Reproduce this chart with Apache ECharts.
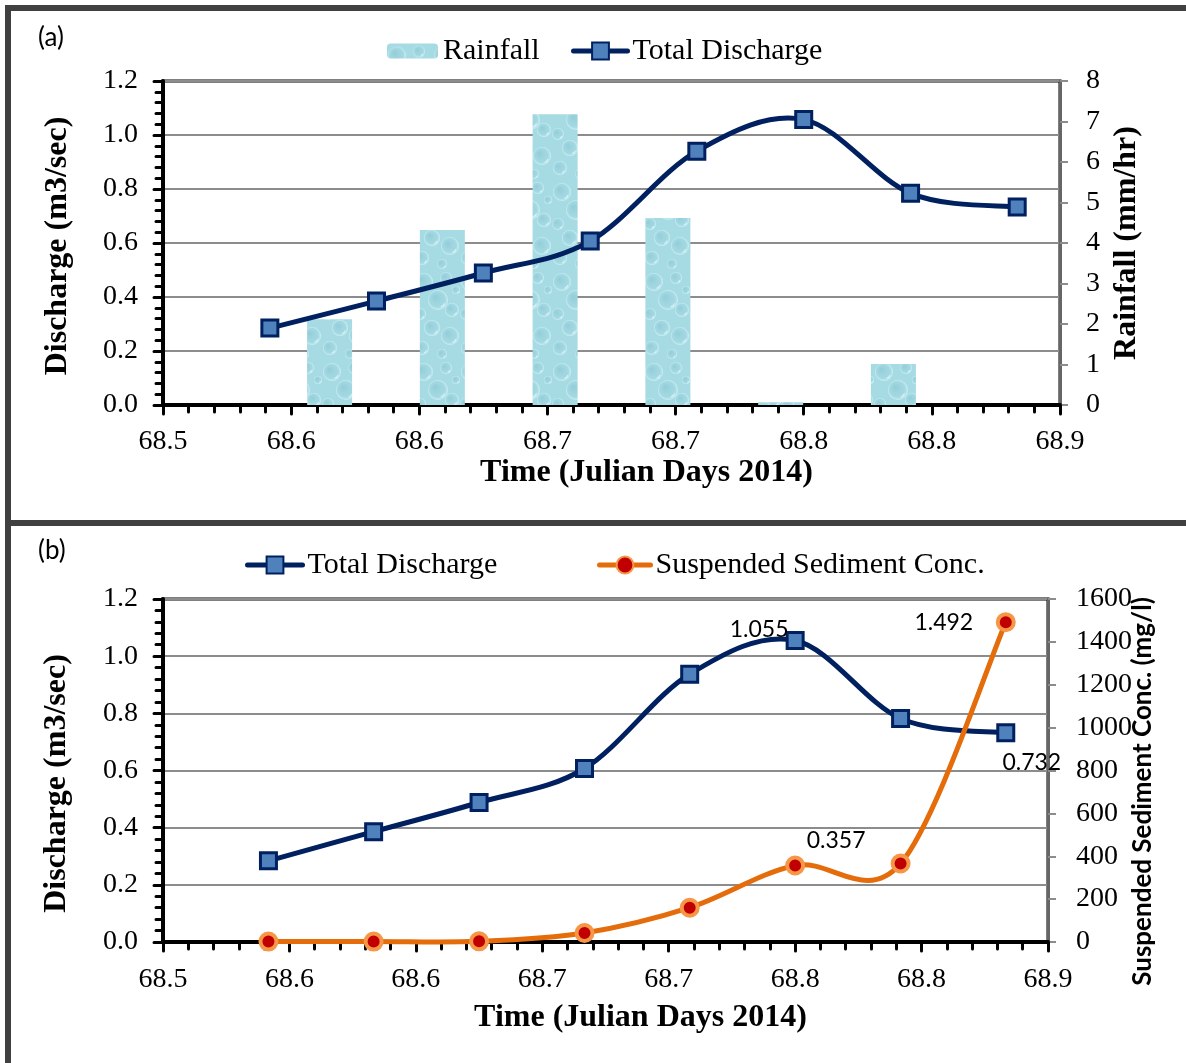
<!DOCTYPE html>
<html><head><meta charset="utf-8">
<script src="https://cdn.jsdelivr.net/npm/echarts@6/dist/echarts.min.js"></script>
<style>html,body{margin:0;padding:0;background:#fff}#c{width:1186px;height:1063px}</style>
</head><body><div id="c"></div><script>
// ---------- data ----------
const xTickLabels = ['68.5','68.6','68.6','68.7','68.7','68.8','68.8','68.9'];
const dischargeTime = [68.5417,68.5833,68.625,68.6667,68.7083,68.75,68.7917,68.8333];
const dischargeA = [0.285,0.385,0.489,0.607,0.940,1.057,0.784,0.733];
const rainTime = [68.565,68.609,68.653,68.697,68.741,68.785];
const rainfall = [2.12,4.32,7.18,4.62,0.07,1.01];
const dischargeB = [0.284,0.386,0.488,0.607,0.937,1.055,0.782,0.732];
const ssc = [2,2,3,42,160,357,366,1492];
const dischargeBLabels = ['','','','','','1.055','','0.732'];
const sscLabels = ['','','','','','0.357','','1.492'];

// ---------- styling ----------
const serif = 'Liberation Serif';
const sans = 'Lato';
const navy = '#002060';
const markerFill = '#4F81BD';
const orange = '#E46C0A';
const tickFont = 28;
const titleFont = 32;

// water-drop texture for the rainfall bars
const pat = document.createElement('canvas');
pat.width = 46; pat.height = 90;
(function(){
  const g = pat.getContext('2d');
  g.fillStyle = '#a6dbe4'; g.fillRect(0,0,46,90);
  const drops = [[10,12,9],[32,8,6],[24,30,10],[6,44,6],[38,40,7],[18,58,8],[36,66,9],[8,78,7],[28,84,5],[42,20,4]];
  drops.forEach(([x,y,r])=>{
    const gr = g.createRadialGradient(x-r*0.3,y-r*0.3,r*0.1,x,y,r);
    gr.addColorStop(0,'rgba(135,196,208,0.55)');
    gr.addColorStop(0.7,'rgba(155,210,220,0.35)');
    gr.addColorStop(1,'rgba(215,244,249,0.85)');
    g.fillStyle = gr; g.beginPath(); g.arc(x,y,r,0,Math.PI*2); g.fill();
    g.strokeStyle = 'rgba(230,250,253,0.7)'; g.lineWidth = 1.2;
    g.beginPath(); g.arc(x+r*0.2,y+r*0.25,r*0.45,0.2,1.4); g.stroke();
  });
})();
const rainColor = {image: pat, repeat: 'repeat'};

const labelOffsetsB = {5:[-36,-11], 7:[26,30]};
const labelOffsetsS = {5:[41,-25], 7:[-62,0]};

function tickLabel(extra){
  return Object.assign({fontFamily:serif, fontSize:tickFont, color:'#000'}, extra);
}
function xAxisCfg(gridIndex, margin, nameGap){
  return {
    type:'value', gridIndex, min:68.5, max:68.85, interval:0.05,
    axisLine:{show:true, onZero:false, lineStyle:{color:'#000', width:4}},
    axisTick:{show:true, length:9, lineStyle:{color:'#000', width:3, cap:'round'}},
    minorTick:{show:true, splitNumber:5, length:7, lineStyle:{color:'#000', width:3, cap:'round'}},
    splitLine:{show:false},
    axisLabel:tickLabel({margin, formatter: v => xTickLabels[Math.round((v-68.5)/0.05)] || ''}),
    name:'Time (Julian Days 2014)', nameLocation:'middle', nameGap, nameMoveOverlap:false,
    nameTextStyle:{fontFamily:serif, fontWeight:'bold', fontSize:titleFont, color:'#000', padding:[0,0,0,70]}
  };
}
function leftYCfg(gridIndex, nameGap, pad){
  return {
    type:'value', gridIndex, position:'left', min:0, max:1.2, interval:0.2,
    axisLine:{show:true, lineStyle:{color:'#000', width:4}},
    axisTick:{show:true, length:9, lineStyle:{color:'#000', width:3, cap:'round'}},
    minorTick:{show:true, splitNumber:5, length:7, lineStyle:{color:'#000', width:3, cap:'round'}},
    splitLine:{show:true, lineStyle:{color:'#8c8c8c', width:2}},
    axisLabel:tickLabel({margin:25, formatter: v => v.toFixed(1)}),
    name:'Discharge (m3/sec)', nameLocation:'middle', nameGap, nameMoveOverlap:false,
    nameTextStyle:{fontFamily:serif, fontWeight:'bold', fontSize:titleFont, color:'#000', padding:pad}
  };
}
function rightYCfg(gridIndex, max, interval, name, nameGap, nameStyle, margin){
  return {
    type:'value', gridIndex, position:'right', min:0, max, interval,
    axisLine:{show:true, lineStyle:{color:'#666', width:3}},
    axisTick:{show:true, length:8, lineStyle:{color:'#8c8c8c', width:2}},
    splitLine:{show:false},
    axisLabel:tickLabel({margin, formatter: v => String(v)}),
    name, nameLocation:'middle', nameGap, nameRotate:90, nameMoveOverlap:false, nameTextStyle:nameStyle
  };
}
// Excel-like smoothed curve (Catmull-Rom) drawn through the axis scales
function curveSeries(xIdx, yIdx, xs, ys, color, z){
  return {
    type:'custom', name:'_curve'+xIdx+yIdx, xAxisIndex:xIdx, yAxisIndex:yIdx, z, silent:true, clip:false,
    data: xs.map((t,i)=>[t, ys[i]]),
    renderItem(params, api){
      if (params.dataIndex !== 0) return null;
      const p = xs.map((t,i)=>api.coord([t, ys[i]]));
      const n = p.length, children = [];
      for (let i=0;i<n-1;i++){
        const p0 = p[Math.max(i-1,0)], p1 = p[i], p2 = p[i+1], p3 = p[Math.min(i+2,n-1)];
        children.push({type:'bezierCurve', shape:{
          x1:p1[0], y1:p1[1], x2:p2[0], y2:p2[1],
          cpx1:p1[0]+(p2[0]-p0[0])/6, cpy1:p1[1]+(p2[1]-p0[1])/6,
          cpx2:p2[0]-(p3[0]-p1[0])/6, cpy2:p2[1]-(p3[1]-p1[1])/6},
          style:{fill:null, stroke:color, lineWidth:5, lineCap:'round'}});
      }
      return {type:'group', children};
    }
  };
}

const legendText = {fontFamily:serif, fontSize:30, color:'#000'};

const option = {
  animation:false,
  backgroundColor:'#fff',
  textStyle:{fontFamily:serif, fontSize:tickFont, color:'#000'},
  graphic:[
    {type:'rect', shape:{x:5,y:5,width:1181,height:6}, style:{fill:'#404040'}, silent:true},
    {type:'rect', shape:{x:5,y:5,width:6,height:1058}, style:{fill:'#404040'}, silent:true},
    {type:'rect', shape:{x:5,y:520,width:1181,height:6}, style:{fill:'#404040'}, silent:true},
    {type:'text', left:38, top:25, style:{text:'(a)', fontFamily:sans, fontSize:26, fill:'#000'}},
    {type:'text', left:38, top:538, style:{text:'(b)', fontFamily:sans, fontSize:26, fill:'#000'}}
  ],
  legend:[
    {data:['Rainfall'], left:387, top:36, padding:0, itemWidth:51, itemHeight:15, textStyle:legendText, selectedMode:false},
    {data:['Total Discharge'], left:571, top:36, padding:0, itemWidth:54, itemHeight:21, textStyle:legendText, selectedMode:false,
      lineStyle:{color:navy, width:5, opacity:1, cap:'round'}},
    {data:['Total Discharge'], left:245, top:550, padding:0, itemWidth:55, itemHeight:21, textStyle:legendText, selectedMode:false,
      lineStyle:{color:navy, width:5, opacity:1, cap:'round'}},
    {data:['Suspended Sediment Conc.'], left:597, top:550, padding:0, itemWidth:51, itemHeight:21, textStyle:legendText, selectedMode:false,
      lineStyle:{color:orange, width:5, opacity:1, cap:'round'}}
  ],
  grid:[
    {left:163, top:81, width:897, height:324, show:true, borderColor:'#000', borderWidth:3, backgroundColor:'#fff'},
    {left:163, top:599, width:885, height:343, show:true, borderColor:'#000', borderWidth:3, backgroundColor:'#fff'}
  ],
  xAxis:[ xAxisCfg(0, 23, 52), xAxisCfg(1, 24, 60) ],
  yAxis:[
    leftYCfg(0, 89, [0,6,0,0]),
    rightYCfg(0, 8, 1, 'Rainfall (mm/hr)', 51, {fontFamily:serif, fontWeight:'bold', fontSize:titleFont, color:'#000'}, 26),
    leftYCfg(1, 90, [0,26,0,0]),
    rightYCfg(1, 1600, 200, 'Suspended Sediment Conc. (mg/l)', 82, {fontFamily:sans, fontWeight:'bold', fontSize:26, color:'#000', padding:[0,42,0,0]}, 28)
  ],
  series:[
    {name:'Rainfall', type:'bar', xAxisIndex:0, yAxisIndex:1, barWidth:45, z:1,
      itemStyle:{color:rainColor},
      data: rainTime.map((t,i)=>[t, rainfall[i]])},
    curveSeries(0, 0, dischargeTime, dischargeA, navy, 2),
    {name:'Total Discharge', type:'line', xAxisIndex:0, yAxisIndex:0, z:3,
      symbol:'rect', symbolSize:16,
      lineStyle:{color:navy, width:0, opacity:0},
      itemStyle:{color:markerFill, borderColor:navy, borderWidth:3},
      data: dischargeTime.map((t,i)=>[t, dischargeA[i]])},
    curveSeries(1, 2, dischargeTime, dischargeB, navy, 2),
    {name:'Total Discharge', type:'line', xAxisIndex:1, yAxisIndex:2, z:3,
      symbol:'rect', symbolSize:16,
      lineStyle:{color:navy, width:0, opacity:0},
      itemStyle:{color:markerFill, borderColor:navy, borderWidth:3},
      data: dischargeTime.map((t,i)=>({value:[t, dischargeB[i]],
        label: dischargeBLabels[i] ? {show:true, position:'inside', offset:labelOffsetsB[i], formatter:dischargeBLabels[i],
          fontFamily:sans, fontSize:23, color:'#000'} : {show:false}}))},
    curveSeries(1, 3, dischargeTime, ssc, orange, 4),
    {name:'Suspended Sediment Conc.', type:'line', xAxisIndex:1, yAxisIndex:3, z:5,
      symbol:'circle', symbolSize:16,
      lineStyle:{color:orange, width:0, opacity:0},
      itemStyle:{color:'#C00000', borderColor:'#F79646', borderWidth:4},
      data: dischargeTime.map((t,i)=>({value:[t, ssc[i]],
        label: sscLabels[i] ? {show:true, position:'inside', offset:labelOffsetsS[i], formatter:sscLabels[i],
          fontFamily:sans, fontSize:23, color:'#000'} : {show:false}}))}
  ]
};
const chart = echarts.init(document.getElementById('c'), null, {renderer:'canvas'});
chart.setOption(option);
</script></body></html>
